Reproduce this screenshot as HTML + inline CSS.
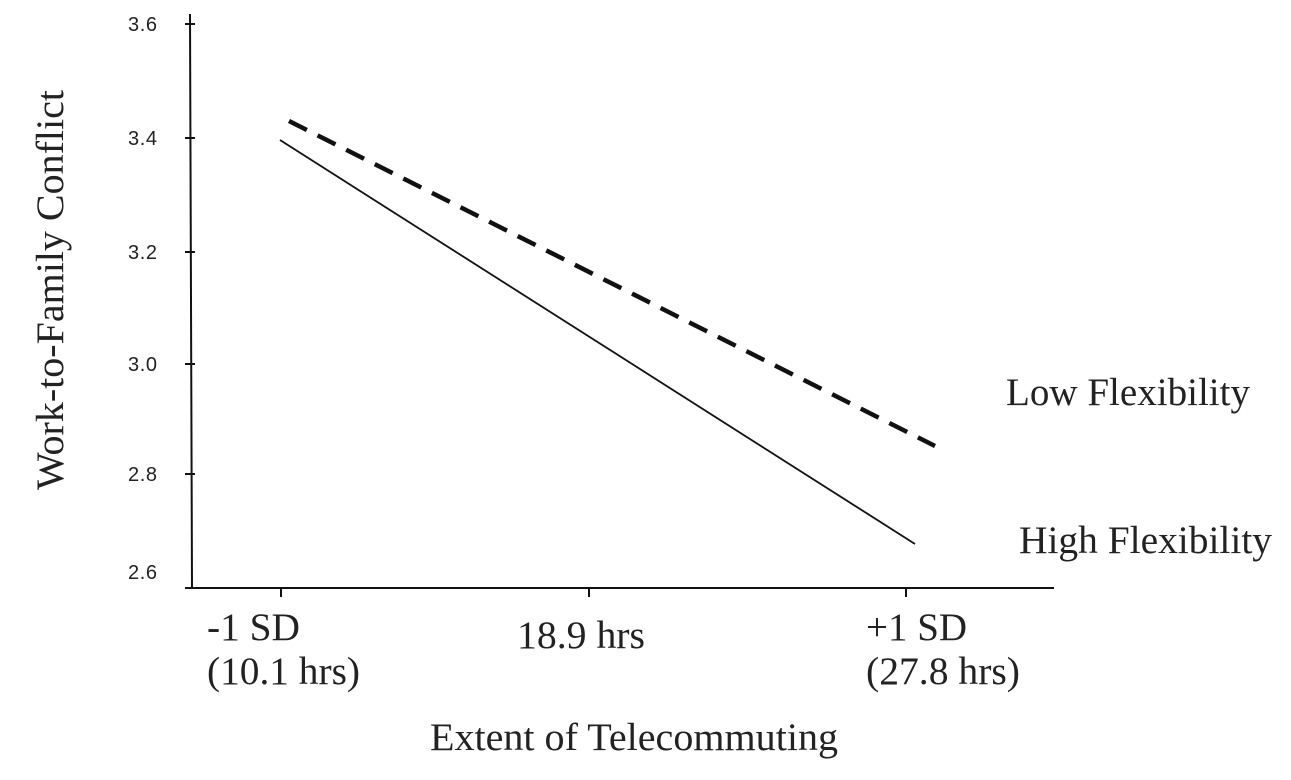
<!DOCTYPE html>
<html><head><style>body{margin:0;background:#fff}</style></head><body>
<svg width="1291" height="775" xmlns="http://www.w3.org/2000/svg">
<g stroke="#111" stroke-width="2" fill="none">
<line x1="190" y1="14" x2="192" y2="588"/>
<line x1="190" y1="588" x2="1054" y2="588"/>
<line x1="185" y1="24" x2="195" y2="24"/>
<line x1="185" y1="138" x2="195" y2="138"/>
<line x1="185" y1="252" x2="195" y2="252"/>
<line x1="185" y1="364" x2="195" y2="364"/>
<line x1="185" y1="474" x2="195" y2="474"/>
<line x1="185" y1="588" x2="195" y2="588"/>
<line x1="281" y1="588" x2="281" y2="597"/>
<line x1="589" y1="588" x2="589" y2="597"/>
<line x1="906" y1="588" x2="906" y2="597"/>
<line x1="280" y1="140" x2="915" y2="544" stroke-width="1.8"/>
<line x1="289" y1="121" x2="935" y2="446" stroke-width="4.5" stroke-dasharray="20,12"/>
</g>
<g font-family="Liberation Sans, sans-serif" font-size="20" fill="#222">
<text x="128" y="31" textLength="29">3.6</text><text x="128" y="145" textLength="29">3.4</text><text x="128" y="259" textLength="29">3.2</text>
<text x="128" y="371" textLength="29">3.0</text><text x="128" y="481" textLength="29">2.8</text><text x="128" y="579" textLength="29">2.6</text>
</g>
<g font-family="Liberation Serif, serif" font-size="39" fill="#222" lengthAdjust="spacingAndGlyphs">
<text x="207" y="640" textLength="93" lengthAdjust="spacingAndGlyphs">-1 SD</text>
<text x="207" y="684" textLength="153" lengthAdjust="spacingAndGlyphs">(10.1 hrs)</text>
<text x="517" y="648" textLength="128" lengthAdjust="spacingAndGlyphs">18.9 hrs</text>
<text x="866" y="640" textLength="101" lengthAdjust="spacingAndGlyphs">+1 SD</text>
<text x="866" y="684" textLength="154" lengthAdjust="spacingAndGlyphs">(27.8 hrs)</text>
<text x="430" y="750" textLength="408" lengthAdjust="spacingAndGlyphs">Extent of Telecommuting</text>
<text x="1006" y="405" textLength="244" lengthAdjust="spacingAndGlyphs">Low Flexibility</text>
<text x="1019" y="553" textLength="253" lengthAdjust="spacingAndGlyphs">High Flexibility</text>
<text transform="translate(63,490) rotate(-90)" textLength="400" lengthAdjust="spacingAndGlyphs">Work-to-Family Conflict</text>
</g>
</svg>
</body></html>
